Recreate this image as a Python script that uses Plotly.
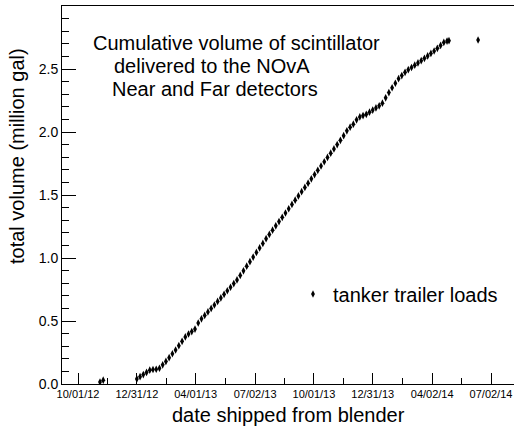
import plotly.graph_objects as go
import pandas as pd

# ---- data ----
ship_dates = [
    "2012-11-04", "2012-11-09",
    "2012-12-31", "2013-01-05", "2013-01-10", "2013-01-15", "2013-01-20", "2013-01-25",
    "2013-01-30", "2013-02-04", "2013-02-09", "2013-02-14", "2013-02-19", "2013-02-24",
    "2013-03-01", "2013-03-06", "2013-03-11", "2013-03-16", "2013-03-21", "2013-03-26",
    "2013-03-31", "2013-04-05", "2013-04-10", "2013-04-15", "2013-04-20", "2013-04-25",
    "2013-04-30", "2013-05-05", "2013-05-10", "2013-05-15", "2013-05-20", "2013-05-25",
    "2013-05-30", "2013-06-04", "2013-06-09", "2013-06-14", "2013-06-19", "2013-06-24",
    "2013-06-29", "2013-07-04", "2013-07-09", "2013-07-14", "2013-07-19", "2013-07-24",
    "2013-07-29", "2013-08-03", "2013-08-08", "2013-08-13", "2013-08-18", "2013-08-23",
    "2013-08-28", "2013-09-02", "2013-09-07", "2013-09-12", "2013-09-17", "2013-09-22",
    "2013-09-27", "2013-10-02", "2013-10-07", "2013-10-12", "2013-10-17", "2013-10-22",
    "2013-10-27", "2013-11-01", "2013-11-06", "2013-11-11", "2013-11-16", "2013-11-21",
    "2013-11-26", "2013-12-01", "2013-12-06", "2013-12-11", "2013-12-16", "2013-12-21",
    "2013-12-26", "2013-12-31", "2014-01-05", "2014-01-10", "2014-01-15", "2014-01-20",
    "2014-01-25", "2014-01-30", "2014-02-04", "2014-02-09", "2014-02-14", "2014-02-19",
    "2014-02-24", "2014-03-01", "2014-03-06", "2014-03-11", "2014-03-16", "2014-03-21",
    "2014-03-26", "2014-03-31", "2014-04-05", "2014-04-10", "2014-04-15", "2014-04-20",
    "2014-04-25", "2014-04-28",
    "2014-06-12",
]
volume_mgal = [
    0.015, 0.030,
    0.040, 0.058, 0.075, 0.092, 0.110, 0.115,
    0.117, 0.125, 0.152, 0.179, 0.209, 0.240,
    0.270, 0.304, 0.339, 0.374, 0.397, 0.416,
    0.436, 0.484, 0.517, 0.544, 0.572, 0.600,
    0.627, 0.655, 0.683, 0.712, 0.740, 0.768,
    0.797, 0.826, 0.862, 0.898, 0.935, 0.971,
    1.007, 1.044, 1.080, 1.116, 1.153, 1.187,
    1.221, 1.255, 1.289, 1.323, 1.357, 1.391,
    1.425, 1.459, 1.493, 1.526, 1.560, 1.594,
    1.628, 1.662, 1.696, 1.730, 1.764, 1.798,
    1.832, 1.866, 1.900, 1.934, 1.971, 2.009,
    2.038, 2.062, 2.097, 2.120, 2.130, 2.140,
    2.157, 2.174, 2.191, 2.208, 2.229, 2.271,
    2.313, 2.351, 2.387, 2.423, 2.448, 2.474,
    2.495, 2.512, 2.530, 2.548, 2.566, 2.585,
    2.604, 2.624, 2.643, 2.664, 2.687, 2.711,
    2.722, 2.725,
    2.730,
]

tick_dates = ["2012-10-01", "2012-12-31", "2013-04-01", "2013-07-02",
              "2013-10-01", "2013-12-31", "2014-04-02", "2014-07-02"]
tick_labels = ["10/01/12", "12/31/12", "04/01/13", "07/02/13",
               "10/01/13", "12/31/13", "04/02/14", "07/02/14"]
y_tick_vals = [0.0, 0.5, 1.0, 1.5, 2.0, 2.5]
y_tick_labels = ["0.0", "0.5", "1.0", "1.5", "2.0", "2.5"]

title_lines = ["Cumulative volume of scintillator",
               "delivered to the NOvA",
               "Near and Far detectors"]

# minor ticks halfway between the date ticks
td = pd.to_datetime(tick_dates)
minor_dates = [(td[i] + (td[i + 1] - td[i]) / 2).strftime("%Y-%m-%d %H:%M")
               for i in range(len(td) - 1)]

FONT = "Liberation Sans, Arial, Helvetica, sans-serif"

fig = go.Figure()
fig.add_trace(go.Scatter(
    x=ship_dates, y=volume_mgal, mode="markers",
    name="tanker trailer loads",
    marker=dict(symbol="diamond-tall", size=5.5, color="black"),
    showlegend=True,
))

W, H = 514, 427
L, R, T, B = 62, 0, 6, 43
pw, ph = W - L - R, H - T - B


def px(x):
    return (x - L) / pw


def py(y):
    return (H - B - y) / ph


annotations = []
for txt, (ax, ay) in zip(title_lines, [(91, 43), (112, 66), (110, 89)]):
    annotations.append(dict(
        text=txt, xref="paper", yref="paper", x=px(ax), y=py(ay),
        xanchor="left", yanchor="middle", showarrow=False,
        font=dict(family=FONT, size=20, color="black"),
    ))
annotations.append(dict(
    text="total volume (million gal)", xref="paper", yref="paper",
    x=px(17), y=py(156), xanchor="center", yanchor="middle",
    textangle=-90, showarrow=False,
    font=dict(family=FONT, size=20, color="black"),
))
annotations.append(dict(
    text="date shipped from blender", xref="paper", yref="paper",
    x=0.5, y=py(415), xanchor="center", yanchor="middle",
    showarrow=False,
    font=dict(family=FONT, size=20, color="black"),
))

fig.update_layout(
    width=W, height=H,
    margin=dict(l=L, r=R, t=T, b=B, pad=0, autoexpand=False),
    paper_bgcolor="white", plot_bgcolor="white",
    font=dict(family=FONT, color="black"),
    showlegend=True,
    legend=dict(x=px(293), y=py(294), xanchor="left", yanchor="middle",
                bgcolor="rgba(0,0,0,0)", font=dict(size=20, family=FONT),
                itemwidth=30, borderwidth=0),
    annotations=annotations,
    xaxis=dict(
        type="date",
        range=["2012-09-06 05:00", "2014-08-06 14:00"],
        showline=True, linecolor="black", linewidth=1, mirror=True,
        ticks="inside", ticklen=11, tickwidth=1, tickcolor="black",
        tickmode="array", tickvals=tick_dates, ticktext=tick_labels,
        tickfont=dict(size=11, family=FONT),
        showgrid=False, zeroline=False, automargin=False,
        minor=dict(tickmode="array", tickvals=minor_dates, ticks="inside",
                   ticklen=6, tickwidth=1, tickcolor="black", showgrid=False),
    ),
    yaxis=dict(
        range=[0, 3.0],
        showline=True, linecolor="black", linewidth=1, mirror=False,
        ticks="inside", ticklen=14, tickwidth=1, tickcolor="black",
        tickmode="array", tickvals=y_tick_vals, ticktext=y_tick_labels,
        tickfont=dict(size=14, family=FONT),
        showgrid=False, zeroline=False, automargin=False,
        minor=dict(tick0=0, dtick=0.1, ticks="inside", ticklen=7,
                   tickwidth=1, tickcolor="black", showgrid=False),
    ),
)

fig.write_html("out.html",
               config={"displayModeBar": False},
               post_script="document.body.style.margin='0';document.body.style.overflow='hidden';")
